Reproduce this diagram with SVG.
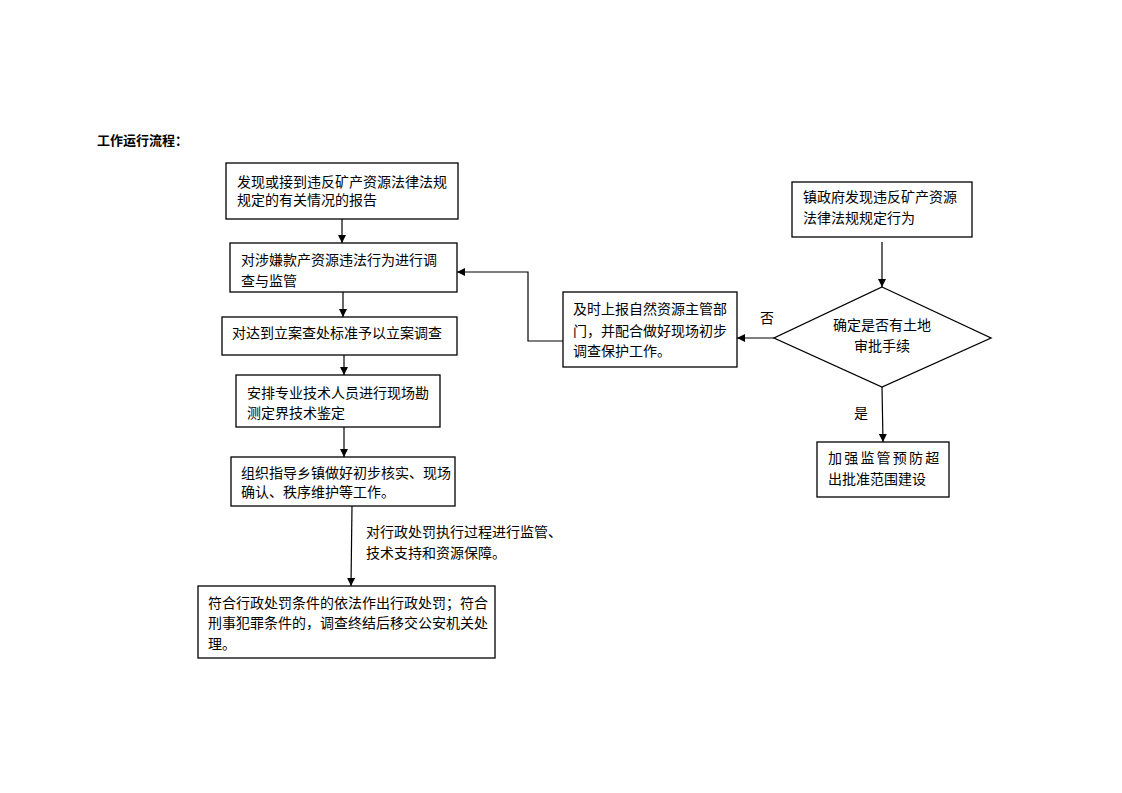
<svg xmlns="http://www.w3.org/2000/svg" width="1122" height="793" viewBox="0 0 1122 793">
<defs>
<marker id="arr" viewBox="0 0 10 10" refX="10" refY="5" markerWidth="8" markerHeight="8" markerUnits="userSpaceOnUse" orient="auto">
<path d="M0,0 L10,5 L0,10 z" fill="#000"/>
</marker>
<style>
.box{fill:#fff;stroke:#000;stroke-width:1.3}
.t{font-family:"Noto Sans CJK SC","Noto Sans CJK JP",sans-serif;font-size:14px;fill:#000}
.c{fill:none;stroke:#000;stroke-width:1.2}
.title{font-family:"Noto Sans CJK SC",sans-serif;font-size:13px;font-weight:bold;fill:#000}
</style>
</defs>
<rect width="1122" height="793" fill="#fff"/>
<text class="title" x="97" y="145">工作运行流程：</text>

<g id="connectors">
<line class="c" x1="342" y1="219" x2="342" y2="243" marker-end="url(#arr)"/>
<line class="c" x1="343" y1="292" x2="343" y2="317" marker-end="url(#arr)"/>
<line class="c" x1="344" y1="355" x2="344" y2="375" marker-end="url(#arr)"/>
<line class="c" x1="344" y1="427" x2="344" y2="457" marker-end="url(#arr)"/>
<line class="c" x1="352" y1="506" x2="351" y2="586" marker-end="url(#arr)"/>
<polyline class="c" points="563,341 528,341 528,272 457,272" marker-end="url(#arr)"/>
<line class="c" x1="882" y1="242" x2="882" y2="287" marker-end="url(#arr)"/>
<line class="c" x1="774" y1="338" x2="737" y2="338" marker-end="url(#arr)"/>
<line class="c" x1="882" y1="387" x2="883" y2="442" marker-end="url(#arr)"/>
<text class="t" x="366" y="537">对行政处罚执行过程进行监管、</text>
<text class="t" x="366" y="558">技术支持和资源保障。</text>
<text class="t" x="760" y="323">否</text>
<text class="t" x="854" y="418">是</text>
</g>

<g id="n1">
<rect class="box" x="226" y="163" width="232" height="56"/>
<text class="t" x="237" y="187">发现或接到违反矿产资源法律法规</text>
<text class="t" x="237" y="205">规定的有关情况的报告</text>
</g>
<g id="n2">
<rect class="box" x="230" y="243" width="227" height="49"/>
<text class="t" x="241" y="265">对涉嫌款产资源违法行为进行调</text>
<text class="t" x="241" y="286">查与监管</text>
</g>
<g id="n3">
<rect class="box" x="222" y="317" width="235" height="38"/>
<text class="t" x="232" y="338">对达到立案查处标准予以立案调查</text>
</g>
<g id="n4">
<rect class="box" x="236" y="375" width="204" height="52"/>
<text class="t" x="247" y="398">安排专业技术人员进行现场勘</text>
<text class="t" x="247" y="418">测定界技术鉴定</text>
</g>
<g id="n5">
<rect class="box" x="231" y="457" width="224" height="49"/>
<text class="t" x="241" y="478">组织指导乡镇做好初步核实、现场</text>
<text class="t" x="241" y="497">确认、秩序维护等工作。</text>
</g>
<g id="n6">
<rect class="box" x="198" y="586" width="297" height="72"/>
<text class="t" x="208" y="608">符合行政处罚条件的依法作出行政处罚；符合</text>
<text class="t" x="208" y="628">刑事犯罪条件的，调查终结后移交公安机关处</text>
<text class="t" x="208" y="649">理。</text>
</g>
<g id="n7">
<rect class="box" x="792" y="182" width="180" height="55"/>
<text class="t" x="803" y="202">镇政府发现违反矿产资源</text>
<text class="t" x="803" y="223">法律法规规定行为</text>
</g>
<g id="n8">
<polygon class="box" points="882,287 991,338 882,387 774,338"/>
<text class="t" x="882" y="330" text-anchor="middle">确定是否有土地</text>
<text class="t" x="882" y="351" text-anchor="middle">审批手续</text>
</g>
<g id="n9">
<rect class="box" x="563" y="292" width="174" height="75"/>
<text class="t" x="573" y="314">及时上报自然资源主管部</text>
<text class="t" x="573" y="336">门，并配合做好现场初步</text>
<text class="t" x="573" y="356">调查保护工作。</text>
</g>
<g id="n10">
<rect class="box" x="817" y="442" width="132" height="55"/>
<text class="t" x="828" y="463" letter-spacing="2.2">加强监管预防超</text>
<text class="t" x="828" y="484">出批准范围建设</text>
</g>
</svg>
